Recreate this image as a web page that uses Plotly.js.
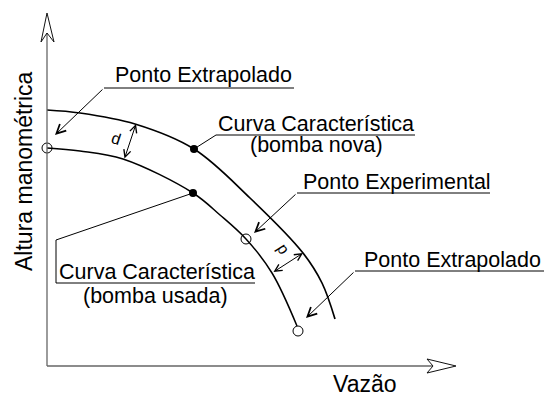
<!DOCTYPE html>
<html><head><meta charset="utf-8">
<script src="https://cdn.plot.ly/plotly-3.0.1.min.js"></script>
<style>html,body{margin:0;padding:0;background:#fff}#chart{width:544px;height:397px}</style>
</head><body><div id="chart"></div>
<script>
// Schematic curves (Vazão Q, Altura H in drawing units)
const novaQ  = [0, 33, 88, 147, 203, 256, 275, 288];
const novaH  = [256, 253, 242, 217, 168, 113, 83, 47];
const usadaQ = [0, 33, 76, 146, 173, 199, 225, 250];
const usadaH = [218, 215, 207, 173, 151, 127, 93, 40];
// marked points
const openQ = [0, 199, 251];     // extrapolated, experimental, extrapolated
const openH = [218, 127, 35];
const dotQ  = [147, 146];        // points on nova / usada curve
const dotH  = [217, 173];
// labels
const axisX = 'Vazão';
const axisY = 'Altura manométrica';
const lblExtrap = 'Ponto Extrapolado';
const lblExper = 'Ponto Experimental';
const lblCurve = 'Curva Característica';
const lblNova = '(bomba nova)';
const lblUsada = '(bomba usada)';
const lblD = 'd';

const FONT = 'Liberation Sans, Arial, Helvetica, sans-serif';
const traces = [
  {x: novaQ, y: novaH, mode: 'lines', line: {color: '#000', width: 1.7, shape: 'spline', smoothing: 1}, hoverinfo: 'skip'},
  {x: usadaQ, y: usadaH, mode: 'lines', line: {color: '#000', width: 1.5, shape: 'spline', smoothing: 1}, hoverinfo: 'skip'},
  {x: openQ, y: openH, mode: 'markers', marker: {symbol: 'circle-open', size: 10, color: '#000', line: {width: 1, color: '#000'}}, hoverinfo: 'skip'},
  {x: dotQ, y: dotH, mode: 'markers', marker: {symbol: 'circle', size: 8, color: '#000'}, hoverinfo: 'skip'}
];

const ln = {color: '#000', width: 1};
const shapes = [
  // axes
  {type: 'line', x0: 0, y0: 0, x1: 0, y1: 333, line: {color: '#666', width: 1.3}},
  {type: 'line', x0: 0, y0: 0, x1: 385, y1: 0, line: {color: '#666', width: 1.3}},
  {type: 'path', path: 'M0,353 L-6,324 L0,333 L7,324 Z', line: {color: '#111', width: 1}, fillcolor: 'rgba(0,0,0,0)'},
  {type: 'path', path: 'M409,0 L380,7 L386,0 L380,-7 Z', line: {color: '#111', width: 1}, fillcolor: 'rgba(0,0,0,0)'},
  // leader lines
  {type: 'line', x0: 57, y0: 278, x1: 247, y1: 278, line: ln},
  {type: 'path', path: 'M147,217 L169,231 L368,231', line: ln},
  {type: 'line', x0: 250, y0: 173, x1: 443, y1: 173, line: ln},
  {type: 'path', path: 'M146,173 L9,126 L9,83 L208,83', line: ln},
  {type: 'line', x0: 308, y0: 95, x1: 497, y1: 95, line: ln}
];

function arrow(x, y, ax, ay, both) {
  const a = {x: x, y: y, ax: ax, ay: ay, xref: 'x', yref: 'y', axref: 'x', ayref: 'y', text: '',
    showarrow: true, arrowhead: 5, arrowsize: both ? 1.4 : 1.8, arrowwidth: 1, arrowcolor: '#000', standoff: 0, startstandoff: 0};
  if (both) { a.arrowside = 'end+start'; a.startarrowhead = 5; a.startarrowsize = 1.4; }
  return a;
}
function label(t, x, y, size, angle) {
  return {x: x, y: y, xref: 'x', yref: 'y', text: t, showarrow: false, xanchor: 'center', yanchor: 'middle',
    textangle: angle || 0, font: {family: FONT, size: size, color: '#000'}};
}

const annotations = [
  arrow(8, 231, 57, 278),
  arrow(207, 133, 250, 173),
  arrow(259, 48, 308, 95),
  arrow(89, 242, 77, 206, true),
  arrow(256, 113, 225, 93, true),
  label(lblExtrap, 156.5, 291, 21.5),
  label(lblCurve, 269, 242.5, 21.5),
  label(lblNova, 269, 221.5, 21.5),
  label(lblExper, 349.5, 184.5, 21.5),
  label(lblCurve, 109.5, 94.5, 21.5),
  label(lblUsada, 108, 70.5, 21.5),
  label(lblExtrap, 405.5, 106.5, 21.5),
  label(lblD, 69, 228, 16, 18),
  label(lblD, 234, 115, 16, -123),
  label(axisX, 317.5, -17.5, 23),
  label(axisY, -23, 195, 23, -90)
];

const layout = {
  width: 544, height: 397,
  margin: {l: 0, r: 0, t: 0, b: 0},
  paper_bgcolor: '#fff', plot_bgcolor: '#fff',
  showlegend: false,
  xaxis: {range: [-47, 497], visible: false, fixedrange: true},
  yaxis: {range: [-31, 366], visible: false, fixedrange: true},
  shapes: shapes,
  annotations: annotations
};
Plotly.newPlot('chart', traces, layout, {staticPlot: true, displayModeBar: false});
</script></body></html>
